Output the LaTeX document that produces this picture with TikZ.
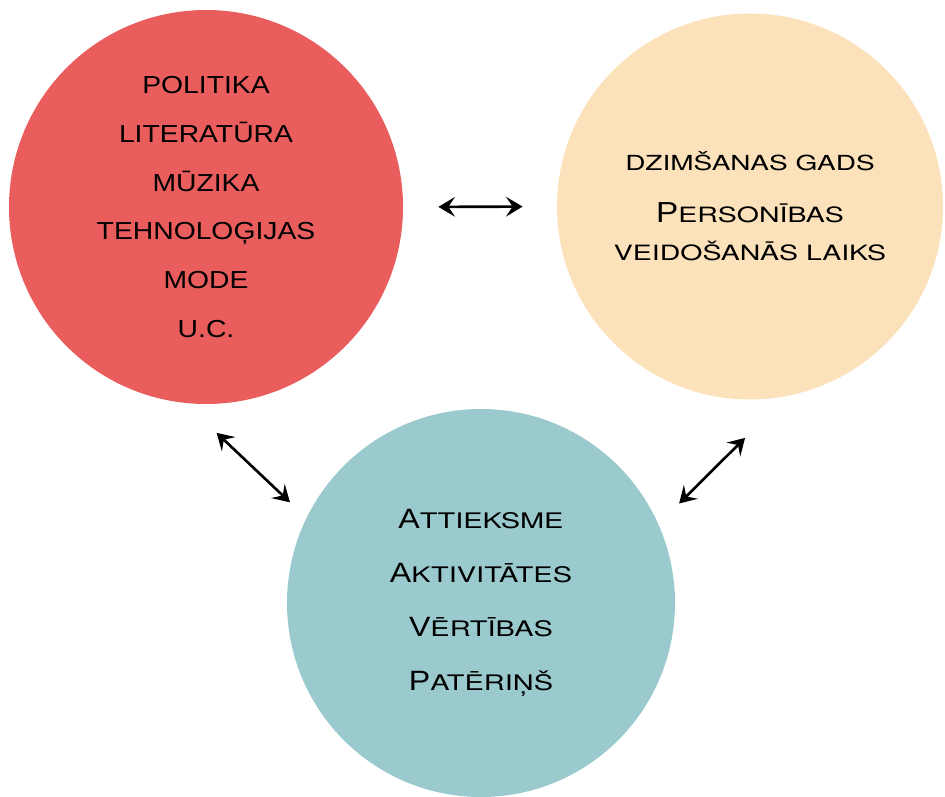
\documentclass[tikz,border=0pt]{standalone}
\usepackage{fontspec}
\usepackage{tikz}
\usetikzlibrary{arrows.meta}

\newfontfamily\circfont{Liberation Sans}[FakeStretch=1.15]
\newfontfamily\widefont{TeX Gyre Heros}[FakeStretch=1.35]
% big first letter, rest as small capitals
\newcommand{\scword}[3][15.9pt]{{\circfont\fontsize{#1}{#1}\selectfont #2}{\widefont #3}}

\definecolor{coral}{HTML}{E95D5D}
\definecolor{peach}{HTML}{FCE2BB}
\definecolor{seafoam}{HTML}{9ACACE}

\begin{document}
\begin{tikzpicture}[
  >={Stealth[length=3.3mm,width=3.9mm,inset=1.3mm]},
  blob/.style={circle,inner sep=0pt,align=center,text=black},
  link/.style={<->,line width=1.5pt}
]
  \useasboundingbox (0,0) rectangle (18.9,15.92);

  \node[blob,fill=coral,minimum size=7.88cm,
        font={\circfont\fontsize{14pt}{27.8pt}\selectfont}] (influences) at (4.12,11.78)
    {POLITIKA\\LITERATŪRA\\MŪZIKA\\TEHNOLOĢIJAS\\MODE\\U.C.};

  \node[blob,fill=peach,minimum size=7.72cm,
        font={\widefont\fontsize{12pt}{21.6pt}\selectfont}] (generation) at (15.0,11.79)
    {{\fontsize{11.8pt}{11.8pt}\selectfont DZIMŠANAS GADS}\\[7.9pt]
     \scword[16.5pt]{P}{ERSONĪBAS}\\VEIDOŠANĀS LAIKS};

  \node[blob,fill=seafoam,minimum size=7.76cm,
        font={\widefont\fontsize{12.2pt}{30.8pt}\selectfont}] (behaviour) at (9.62,3.86)
    {\scword{A}{TTIEKSME}\\\scword{A}{KTIVITĀTES}\\\scword{V}{ĒRTĪBAS}\\\scword{P}{ATĒRIŅŠ}};

  \draw[link,shorten <=0.7cm,shorten >=0.68cm] (influences.east) -- (generation.west);
  \draw[link,shorten <=0.86cm,shorten >=0.45cm] (influences.264.5) -- (behaviour.154.3);
  \draw[link,shorten <=0.58cm,shorten >=1.18cm] (behaviour.24.6) -- (generation.281.8);
\end{tikzpicture}
\end{document}
